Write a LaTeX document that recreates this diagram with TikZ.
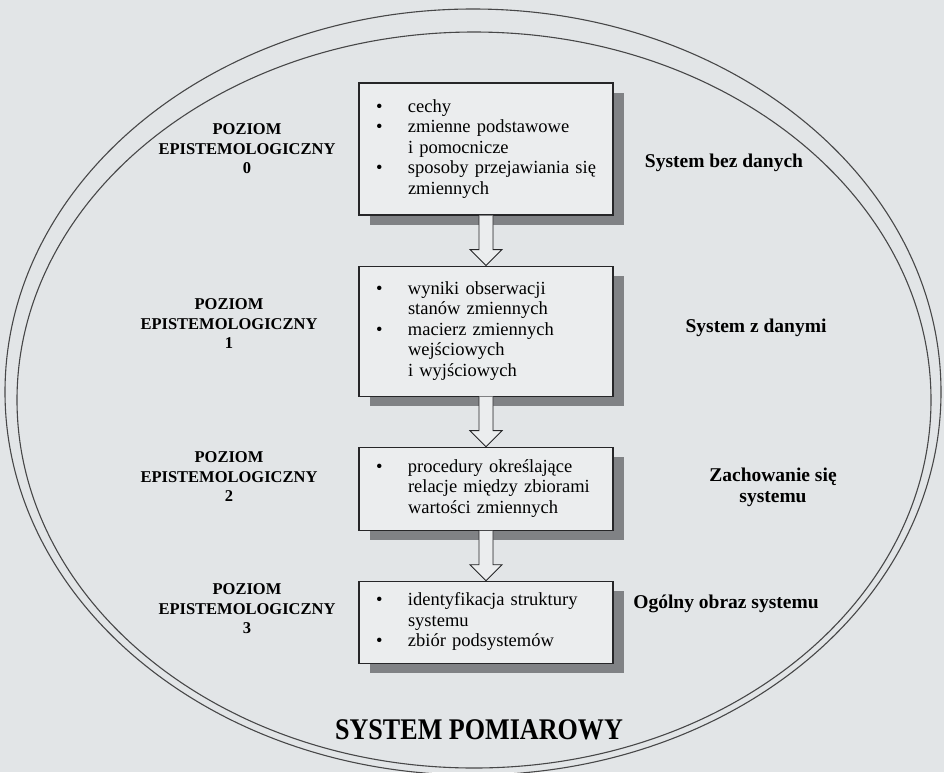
\documentclass[tikz,border=0pt]{standalone}
\usepackage{fontspec}
\setmainfont{Liberation Serif}
\usetikzlibrary{positioning,calc,shadows}
\definecolor{paper}{RGB}{226,229,231}
\definecolor{boxfill}{RGB}{235,237,238}
\definecolor{shade}{RGB}{128,130,133}
\definecolor{ink}{RGB}{38,38,40}
\tikzset{
  levelbox/.style={draw=ink, line width=1.1pt, fill=boxfill, text width=226pt,
    inner xsep=14pt, inner ysep=6pt, align=left,
    font=\fontsize{18.5}{20.5}\selectfont,
    drop shadow={shadow xshift=11pt, shadow yshift=-10pt, fill=shade, opacity=1}},
  levellabel/.style={align=center, font=\bfseries\fontsize{16.5}{19.5}\selectfont},
  namelabel/.style={align=center, font=\bfseries\fontsize{19.5}{21}\selectfont},
  flowarrow/.style={draw=ink, line width=0.9pt, fill=boxfill},
  flowshade/.style={fill=shade},
  rim/.style={draw=ink!85, line width=1.1pt},
}
\newcommand{\pt}{\hspace*{3pt}\textbullet}
\begin{document}
\begin{tikzpicture}[x=1pt,y=-1pt]
  \useasboundingbox[fill=paper] (0,0) rectangle (944,772);
  % outer frame
  \draw[rim] (473,392) ellipse [x radius=468pt, y radius=383pt];
  \draw[rim] (474,400) ellipse [x radius=457pt, y radius=368pt];
  % boxes
  \node[levelbox, minimum height=132pt] (b0) at (486,149) {%
    \begin{tabular}{@{}p{35pt}@{}l@{}}
      \pt & cechy\\
      \pt & zmienne podstawowe\\
          & i pomocnicze\\
      \pt & sposoby przejawiania się\\
          & zmiennych
    \end{tabular}};
  \node[levelbox, minimum height=130pt, below=50pt of b0] (b1) {%
    \begin{tabular}{@{}p{35pt}@{}l@{}}
      \pt & wyniki obserwacji\\
          & stanów zmiennych\\
      \pt & macierz zmiennych\\
          & wejściowych\\
          & i wyjściowych
    \end{tabular}};
  \node[levelbox, minimum height=83pt, below=50pt of b1] (b2) {%
    \begin{tabular}{@{}p{35pt}@{}l@{}}
      \pt & procedury określające\\
          & relacje między zbiorami\\
          & wartości zmiennych
    \end{tabular}};
  \node[levelbox, minimum height=82pt, below=50pt of b2] (b3) {%
    \begin{tabular}{@{}p{35pt}@{}l@{}}
      \pt & identyfikacja struktury\\
          & systemu\\
      \pt & zbiór podsystemów
    \end{tabular}};
  % arrows between levels
  \foreach \from/\to in {b0/b1,b1/b2,b2/b3} {
    \fill[flowshade, shift={(8,-4)}]
      ($(\from.south)+(-7,0)$) -- ($(\to.north)+(-7,-16)$) -- ($(\to.north)+(-16,-16)$)
      -- (\to.north) -- ($(\to.north)+(16,-16)$) -- ($(\to.north)+(7,-16)$)
      -- ($(\from.south)+(7,0)$) -- cycle;
    \draw[flowarrow]
      ($(\from.south)+(-7,0)$) -- ($(\to.north)+(-7,-16)$) -- ($(\to.north)+(-16,-16)$)
      -- (\to.north) -- ($(\to.north)+(16,-16)$) -- ($(\to.north)+(7,-16)$)
      -- ($(\from.south)+(7,0)$);
  }
  % level labels
  \node[levellabel] (l0) at (247,149) {POZIOM\\EPISTEMOLOGICZNY\\0};
  \node[levellabel] (l1) at (229,324) {POZIOM\\EPISTEMOLOGICZNY\\1};
  \node[levellabel] (l2) at (229,477) {POZIOM\\EPISTEMOLOGICZNY\\2};
  \node[levellabel] (l3) at (247,609) {POZIOM\\EPISTEMOLOGICZNY\\3};
  % system names
  \node[namelabel] (n0) at (724,163) {System bez danych};
  \node[namelabel] (n1) at (756,328) {System z danymi};
  \node[namelabel] (n2) at (773,487) {Zachowanie się\\systemu};
  \node[namelabel] (n3) at (726,604) {Ogólny obraz systemu};
  \node[font=\bfseries\fontsize{30}{34}\selectfont] (title) at (479,730)
    {\scalebox{0.87}[1]{SYSTEM POMIAROWY}};
\end{tikzpicture}
\end{document}
